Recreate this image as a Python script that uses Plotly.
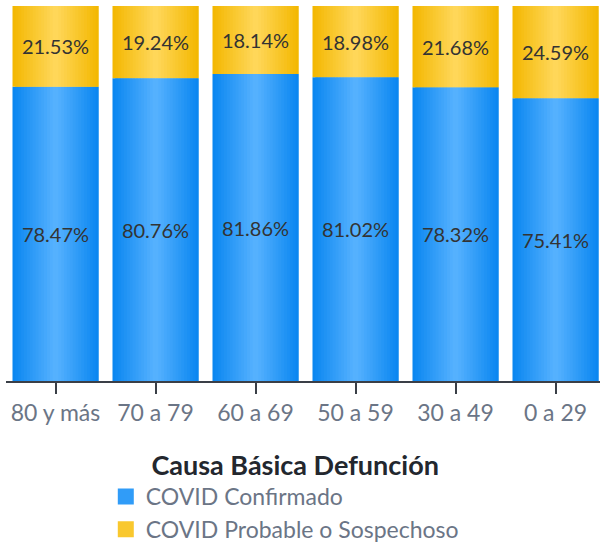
import plotly.graph_objects as go

categories = ["80 y más", "70 a 79", "60 a 69", "50 a 59", "30 a 49", "0 a 29"]
confirmado = [78.47, 80.76, 81.86, 81.02, 78.32, 75.41]
probable = [21.53, 19.24, 18.14, 18.98, 21.68, 24.59]
series_names = ["COVID Confirmado", "COVID Probable o Sospechoso"]

FONT = "Lato"
BLUE_EDGE = (8, 134, 240)
BLUE_MID = (88, 178, 255)
YEL_EDGE = (243, 183, 0)
YEL_MID = (255, 216, 92)

def mix(a, b, t):
    return "rgb(%d,%d,%d)" % tuple(round(a[k] + (b[k] - a[k]) * t) for k in range(3))

BAR_W = 0.86
N = 30
sw = BAR_W / N
xs = list(range(len(categories)))

fig = go.Figure()
for j in range(N):
    pos = (j + 0.5) / N
    t = 1 - abs(pos - 0.5) * 2
    off = -BAR_W / 2 + j * sw
    w = sw if j == N - 1 else sw * 2
    fig.add_trace(go.Bar(x=xs, y=confirmado, base=[0] * len(xs), width=w, offset=off,
                         marker=dict(color=mix(BLUE_EDGE, BLUE_MID, t), line=dict(width=0)),
                         showlegend=False, hoverinfo="skip"))
    fig.add_trace(go.Bar(x=xs, y=probable, base=confirmado, width=w, offset=off,
                         marker=dict(color=mix(YEL_EDGE, YEL_MID, t), line=dict(width=0)),
                         showlegend=False, hoverinfo="skip"))

# labels on transparent bars
for vals, bases in [(confirmado, [0] * len(xs)), (probable, confirmado)]:
    fig.add_trace(go.Bar(x=xs, y=vals, base=bases, width=BAR_W,
                         text=["%.2f%%" % v for v in vals], textposition="inside",
                         insidetextanchor="middle", constraintext="none",
                         textfont=dict(family=FONT, size=20, color="#333333"),
                         marker=dict(color="rgba(0,0,0,0)", line=dict(width=0)),
                         showlegend=False, hoverinfo="skip"))

# legend entries
for name, col in zip(series_names, [mix(BLUE_EDGE, BLUE_MID, 0.5), mix(YEL_EDGE, YEL_MID, 0.5)]):
    fig.add_trace(go.Scatter(x=[None], y=[None], mode="markers", name=name,
                             marker=dict(symbol="square", size=17, color=col)))

fig.update_layout(
    width=600, height=542,
    margin=dict(l=6, r=0, t=6, b=161, autoexpand=False),
    barmode="overlay",
    plot_bgcolor="white", paper_bgcolor="white",
    font=dict(family=FONT),
    xaxis=dict(tickmode="array", tickvals=xs, ticktext=categories, range=[-0.495, 5.445],
               showgrid=False, zeroline=False, showline=True, linecolor="#3a3f47", linewidth=1.5,
               ticks="outside", ticklen=11, tickcolor="#3a3f47", tickwidth=1.5,
               tickfont=dict(family=FONT, size=23, color="#6b7586")),
    yaxis=dict(range=[0, 100], visible=False, showgrid=False, zeroline=False),
    legend=dict(orientation="v", x=0.168, xanchor="left", y=-0.157, yanchor="top",
                title=dict(text="&nbsp;&nbsp;&nbsp;<b>Causa Básica Defunción</b>", side="top center",
                           font=dict(family=FONT, size=27, color="#23272e")),
                font=dict(family=FONT, size=23, color="#6b7586"),
                itemsizing="trace", tracegroupgap=0),
    showlegend=True,
)

fig.write_html("out.html", config={"displayModeBar": False},
               post_script="document.body.style.margin='0';document.body.style.overflow='hidden';")
